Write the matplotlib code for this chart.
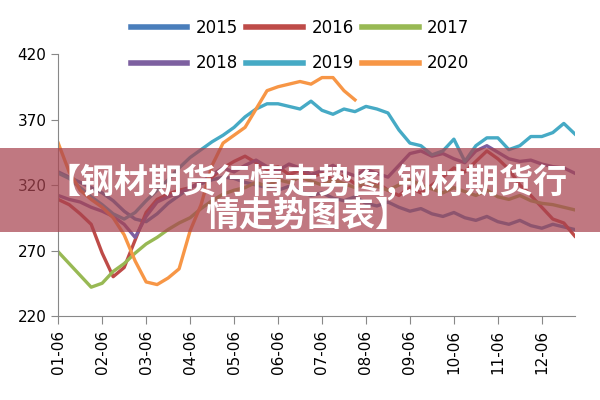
import numpy as np
import matplotlib
matplotlib.use("Agg")
import matplotlib.pyplot as plt
from matplotlib.patches import Rectangle

# weekly-ish samples, positions in months after 01-06
month_labels = ["01-06", "02-06", "03-06", "04-06", "05-06", "06-06",
                "07-06", "08-06", "09-06", "10-06", "11-06", "12-06"]

p2015 = [330, 326, 322, 318, 314, 308, 300, 294, 292, 298, 306, 312,
         318, 321, 324, 326, 325, 322, 320, 318, 316, 319, 315, 312,
         314, 310, 308, 311, 306, 304, 307, 303, 300, 302, 298, 296,
         299, 295, 293, 296, 292, 290, 293, 289, 287, 290, 288, 286]
p2016 = [309, 305, 298, 290, 268, 250, 257, 278, 299, 309, 313, 316,
         318, 322, 326, 333, 338, 342, 337, 332, 334, 328, 331, 326,
         329, 324, 327, 321, 318, 322, 316, 312, 318, 314, 320, 326,
         333, 330, 338, 346, 340, 332, 320, 312, 303, 294, 291, 281]
p2017 = [269, 260, 251, 242, 245, 254, 260, 268, 275, 280, 286, 291,
         295, 302, 308, 313, 316, 318, 322, 319, 324, 322, 326, 323,
         320, 324, 321, 318, 322, 319, 316, 320, 324, 320, 317, 314,
         318, 315, 312, 316, 311, 309, 312, 308, 306, 305, 303, 301]
p2018 = [312, 309, 307, 303, 300, 296, 290, 280, 296, 307, 311, 314,
         318, 322, 328, 333, 330, 335, 339, 334, 331, 336, 333, 328,
         331, 335, 330, 327, 332, 329, 326, 335, 344, 346, 342, 344,
         340, 337, 346, 350, 345, 340, 338, 339, 336, 334, 333, 329]
p2019 = [329, 325, 318, 311, 305, 298, 294, 299, 308, 316, 324, 333,
         341, 347, 353, 358, 364, 372, 378, 382, 382, 380, 378, 384,
         377, 374, 378, 376, 380, 378, 375, 362, 352, 350, 343, 346,
         355, 338, 350, 356, 356, 347, 350, 357, 357, 360, 367, 359]
p2020 = [352, 330, 316, 309, 303, 295, 282, 262, 246, 244, 249, 256,
         285, 305, 335, 352, 358, 364, 378, 392, 395, 397, 399, 397,
         402, 402, 392, 385]

series = [("2015", p2015, "#4a7ebb"), ("2016", p2016, "#be4b48"),
          ("2017", p2017, "#98b954"), ("2018", p2018, "#7d60a0"),
          ("2019", p2019, "#46aac5"), ("2020", p2020, "#f79646")]

fig = plt.figure(figsize=(6, 4), dpi=100)
ax = fig.add_axes([0.097, 0.21, 0.861, 0.655])

handles = []
for name, vals, col in series:
    x = np.arange(len(vals)) / 4
    h, = ax.plot(x, vals, color=col, lw=2.4, label=name, solid_joinstyle="round")
    handles.append(h)

ax.set_xlim(0, 11.75)
ax.set_ylim(220, 420)
ax.set_yticks([220, 270, 320, 370, 420])
ax.set_xticks(range(12))
ax.set_xticklabels(month_labels, rotation=90)
ax.tick_params(axis="both", labelsize=11, color="#888888", direction="out", length=5)
ax.tick_params(axis="x", length=6, pad=4)
for s in ["top", "right"]:
    ax.spines[s].set_visible(False)
for s in ["left", "bottom"]:
    ax.spines[s].set_color("#888888")

# legend fills by column, so reorder to read row-wise
order = [0, 3, 1, 4, 2, 5]
leg = fig.legend([handles[i] for i in order], [series[i][0] for i in order],
                 loc="upper center", bbox_to_anchor=(0.5, 0.99), ncol=3, frameon=False,
                 fontsize=12, handlelength=3.4, columnspacing=0.5, handletextpad=0.5,
                 labelspacing=1.05)
for line in leg.get_lines():
    line.set_linewidth(4)

# overlaid banner
fig.patches.append(Rectangle((0, 0.42), 1, 0.21, transform=fig.transFigure,
                             facecolor="#a84450", alpha=0.72, edgecolor="none", zorder=5))
cjk = ["Noto Sans CJK SC", "DejaVu Sans"]
fig.text(0.511, 0.545, "【钢材期货行情走势图,钢材期货行", ha="center", va="center",
         color="white", fontsize=24.5, fontweight="heavy", family=cjk, zorder=6)
fig.text(0.513, 0.463, "情走势图表】", ha="center", va="center",
         color="white", fontsize=24.5, fontweight="heavy", family=cjk, zorder=6)

fig.savefig("out.png", dpi=100)
